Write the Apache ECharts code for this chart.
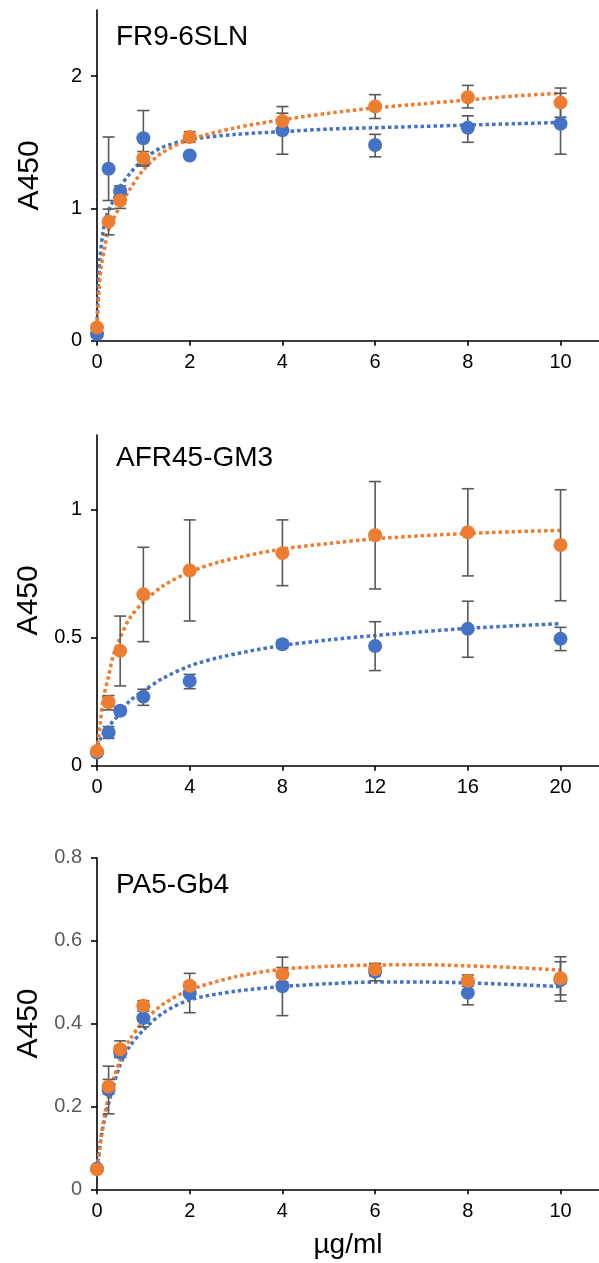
<!DOCTYPE html>
<html><head><meta charset="utf-8">
<script src="https://cdn.jsdelivr.net/npm/echarts@6/dist/echarts.min.js"></script>
<style>html,body{margin:0;padding:0;background:#fff}#c{width:599px;height:1263px}</style>
</head><body><div id="c"></div>
<script>
// ---------- Panel 1: FR9-6SLN ----------
const p1Title = 'FR9-6SLN';
const p1X = [0, 0.25, 0.5, 1, 2, 4, 6, 8, 10];
const p1Blue = [0.05, 1.30, 1.13, 1.53, 1.40, 1.59, 1.48, 1.61, 1.64];
const p1Orange = [0.10, 0.90, 1.06, 1.38, 1.54, 1.66, 1.77, 1.84, 1.80];
const p1BlueLo = [null, 1.06, 1.09, 1.32, null, 1.41, 1.39, 1.50, 1.41];
const p1BlueHi = [null, 1.54, 1.17, 1.74, null, 1.77, 1.56, 1.70, 1.87];
const p1OrangeLo = [null, 0.80, 1.00, 1.33, 1.50, 1.60, 1.68, 1.76, 1.69];
const p1OrangeHi = [null, 0.995, 1.12, 1.43, 1.58, 1.72, 1.86, 1.93, 1.91];
const p1BlueFitX = [0, 0.02, 0.06, 0.13, 0.2, 0.31, 0.5, 0.7, 1, 1.4, 2, 3, 4, 5, 6, 7, 8, 9, 10];
const p1BlueFitY = [0.06, 0.35, 0.61, 0.82, 0.94, 1.03, 1.16, 1.26, 1.37, 1.46, 1.52, 1.56, 1.58, 1.60, 1.61, 1.62, 1.63, 1.64, 1.65];
const p1OrangeFitX = [0, 0.02, 0.04, 0.09, 0.17, 0.25, 0.5, 0.7, 1, 1.4, 2, 3, 4, 5, 6, 7, 8, 9, 10];
const p1OrangeFitY = [0.10, 0.25, 0.36, 0.56, 0.71, 0.84, 1.02, 1.14, 1.29, 1.42, 1.52, 1.61, 1.67, 1.72, 1.76, 1.79, 1.82, 1.85, 1.87];
const p1XTicks = [0, 2, 4, 6, 8, 10];
const p1YTicks = [0, 1, 2];

// ---------- Panel 2: AFR45-GM3 ----------
const p2Title = 'AFR45-GM3';
const p2X = [0, 0.5, 1, 2, 4, 8, 12, 16, 20];
const p2Blue = [0.051, 0.13, 0.215, 0.27, 0.331, 0.475, 0.468, 0.535, 0.496];
const p2Orange = [0.057, 0.248, 0.449, 0.670, 0.763, 0.831, 0.901, 0.913, 0.863];
const p2BlueLo = [null, 0.107, 0.20, 0.236, 0.301, 0.46, 0.372, 0.424, 0.45];
const p2BlueHi = [null, 0.153, 0.23, 0.299, 0.357, 0.49, 0.563, 0.643, 0.541];
const p2OrangeLo = [null, 0.218, 0.312, 0.485, 0.566, 0.704, 0.691, 0.742, 0.645];
const p2OrangeHi = [null, 0.274, 0.585, 0.854, 0.961, 0.961, 1.111, 1.083, 1.079];
const p2BlueFitX = [0, 0.12, 0.5, 1, 1.4, 2, 2.85, 4, 5.3, 7.7, 10, 12, 14, 16, 18, 20];
const p2BlueFitY = [0.05, 0.10, 0.153, 0.205, 0.252, 0.292, 0.342, 0.39, 0.424, 0.466, 0.492, 0.509, 0.524, 0.537, 0.547, 0.555];
const p2OrangeFitX = [0, 0.14, 0.26, 0.5, 0.7, 1, 1.4, 2, 2.85, 4, 5.3, 7.7, 10, 12, 14, 16, 18, 20];
const p2OrangeFitY = [0.06, 0.166, 0.257, 0.35, 0.43, 0.50, 0.575, 0.64, 0.703, 0.757, 0.797, 0.843, 0.869, 0.887, 0.899, 0.908, 0.915, 0.92];
const p2XTicks = [0, 4, 8, 12, 16, 20];
const p2YTicks = [0, 0.5, 1];

// ---------- Panel 3: PA5-Gb4 ----------
const p3Title = 'PA5-Gb4';
const p3X = [0, 0.25, 0.5, 1, 2, 4, 6, 8, 10];
const p3Blue = [0.05, 0.24, 0.33, 0.413, 0.473, 0.49, 0.525, 0.474, 0.505];
const p3Orange = [0.048, 0.248, 0.338, 0.443, 0.491, 0.519, 0.531, 0.503, 0.509];
const p3BlueLo = [null, 0.182, 0.32, 0.392, 0.426, 0.419, 0.503, 0.445, 0.454];
const p3BlueHi = [null, 0.297, 0.345, 0.434, 0.521, 0.56, 0.544, 0.503, 0.561];
const p3OrangeLo = [null, 0.23, 0.318, 0.43, 0.48, 0.50, 0.515, 0.49, 0.469];
const p3OrangeHi = [null, 0.265, 0.358, 0.455, 0.50, 0.535, 0.545, 0.517, 0.549];
const p3BlueFitX = [0, 0.06, 0.13, 0.25, 0.35, 0.5, 0.7, 1, 1.42, 2, 3, 4, 5, 6, 7, 8, 9, 10];
const p3BlueFitY = [0.05, 0.103, 0.151, 0.207, 0.248, 0.30, 0.344, 0.384, 0.425, 0.457, 0.478, 0.489, 0.496, 0.50, 0.50, 0.498, 0.494, 0.489];
const p3OrangeFitX = [0, 0.02, 0.09, 0.17, 0.25, 0.35, 0.5, 0.7, 1, 1.42, 2, 3, 4, 5, 6, 7, 8, 9, 10];
const p3OrangeFitY = [0.048, 0.063, 0.127, 0.183, 0.223, 0.264, 0.312, 0.36, 0.404, 0.446, 0.481, 0.513, 0.531, 0.538, 0.541, 0.542, 0.539, 0.535, 0.529];
const p3XTicks = [0, 2, 4, 6, 8, 10];
const p3YTicks = [0, 0.2, 0.4, 0.6, 0.8];

const yName = 'A450';
const xName = 'µg/ml';

// ---------- styling ----------
const BLUE = '#4472C4', ORANGE = '#ED7D31', ERR = '#595959';
const FONT = '"Liberation Sans", Arial, Helvetica, sans-serif';

const grids = [
  {left: 97, width: 502, top: 10, height: 330.7},
  {left: 97, width: 502, top: 435, height: 330.7},
  {left: 97, width: 502, top: 857.7, height: 331.6}
];

function pairs(xs, ys) { return xs.map((x, i) => [x, ys[i]]); }
function errs(xs, lo, hi) {
  const out = [];
  xs.forEach((x, i) => { if (lo[i] != null && hi[i] != null) out.push([x, lo[i], hi[i]]); });
  return out;
}
function errRender(params, api) {
  const x = api.value(0), lo = api.value(1), hi = api.value(2);
  const a = api.coord([x, lo]), b = api.coord([x, hi]);
  const w = 6;
  const st = {stroke: ERR, lineWidth: 1.6};
  return {type: 'group', children: [
    {type: 'line', shape: {x1: a[0], y1: a[1], x2: b[0], y2: b[1]}, style: st},
    {type: 'line', shape: {x1: a[0] - w, y1: a[1], x2: a[0] + w, y2: a[1]}, style: st},
    {type: 'line', shape: {x1: b[0] - w, y1: b[1], x2: b[0] + w, y2: b[1]}, style: st}
  ]};
}

const panels = [
  {title: p1Title, x: p1X, b: p1Blue, o: p1Orange, bl: p1BlueLo, bh: p1BlueHi, ol: p1OrangeLo, oh: p1OrangeHi,
   bfx: p1BlueFitX, bfy: p1BlueFitY, ofx: p1OrangeFitX, ofy: p1OrangeFitY, xt: p1XTicks, yt: p1YTicks,
   xmax: 10.83, ymax: 2.5, yColor: '#000', titleTop: 18},
  {title: p2Title, x: p2X, b: p2Blue, o: p2Orange, bl: p2BlueLo, bh: p2BlueHi, ol: p2OrangeLo, oh: p2OrangeHi,
   bfx: p2BlueFitX, bfy: p2BlueFitY, ofx: p2OrangeFitX, ofy: p2OrangeFitY, xt: p2XTicks, yt: p2YTicks,
   xmax: 21.66, ymax: 1.293, yColor: '#000', titleTop: 439},
  {title: p3Title, x: p3X, b: p3Blue, o: p3Orange, bl: p3BlueLo, bh: p3BlueHi, ol: p3OrangeLo, oh: p3OrangeHi,
   bfx: p3BlueFitX, bfy: p3BlueFitY, ofx: p3OrangeFitX, ofy: p3OrangeFitY, xt: p3XTicks, yt: p3YTicks,
   xmax: 10.83, ymax: 0.8, yColor: '#595959', titleTop: 866}
];

const xAxes = [], yAxes = [], series = [], titles = [];
panels.forEach((p, i) => {
  titles.push({text: p.title, left: 111, top: p.titleTop,
    textStyle: {fontFamily: FONT, fontSize: 28, fontWeight: 'normal', color: '#000'}});
  xAxes.push({
    type: 'value', gridIndex: i, min: 0, max: p.xmax,
    splitLine: {show: false},
    axisLine: {lineStyle: {color: '#000', width: 1.6}},
    axisTick: {customValues: p.xt, length: 5, lineStyle: {color: '#000', width: 1.6}},
    axisLabel: {customValues: p.xt, margin: 12, color: '#000', fontSize: 20, fontFamily: FONT},
    name: i === 2 ? xName : '', nameLocation: 'middle', nameGap: 42,
    nameTextStyle: {fontSize: 28, fontFamily: FONT, color: '#000'}
  });
  yAxes.push({
    type: 'value', gridIndex: i, min: 0, max: p.ymax,
    splitLine: {show: false},
    axisLine: {show: true, lineStyle: {color: '#000', width: 1.6}},
    axisTick: {show: true, customValues: p.yt, length: 6, lineStyle: {color: '#000', width: 1.6}},
    axisLabel: {customValues: p.yt, margin: 15, color: p.yColor, fontSize: 20, fontFamily: FONT},
    name: yName, nameLocation: 'middle', nameGap: 52,
    nameTextStyle: {fontSize: 30, fontFamily: FONT, color: '#000'}
  });
  const fitLine = (xs, ys, color) => ({
    type: 'line', xAxisIndex: i, yAxisIndex: i, data: pairs(xs, ys),
    showSymbol: false, smooth: 0.3, silent: true, z: 1,
    lineStyle: {color: color, width: 3.5, type: [3.5, 3], cap: 'butt'}
  });
  series.push(fitLine(p.bfx, p.bfy, BLUE));
  series.push(fitLine(p.ofx, p.ofy, ORANGE));
  series.push({type: 'custom', xAxisIndex: i, yAxisIndex: i, renderItem: errRender,
    data: errs(p.x, p.bl, p.bh), encode: {x: 0, y: [1, 2]}, z: 2, silent: true});
  series.push({type: 'custom', xAxisIndex: i, yAxisIndex: i, renderItem: errRender,
    data: errs(p.x, p.ol, p.oh), encode: {x: 0, y: [1, 2]}, z: 2, silent: true});
  series.push({type: 'scatter', xAxisIndex: i, yAxisIndex: i, data: pairs(p.x, p.b),
    symbolSize: 14, itemStyle: {color: BLUE, opacity: 1}, z: 3});
  series.push({type: 'scatter', xAxisIndex: i, yAxisIndex: i, data: pairs(p.x, p.o),
    symbolSize: 14, itemStyle: {color: ORANGE, opacity: 1}, z: 4});
});

const chart = echarts.init(document.getElementById('c'), null, {renderer: 'canvas'});
chart.setOption({
  animation: false,
  backgroundColor: '#fff',
  title: titles,
  grid: grids,
  xAxis: xAxes,
  yAxis: yAxes,
  series: series
});
</script>
</body></html>
